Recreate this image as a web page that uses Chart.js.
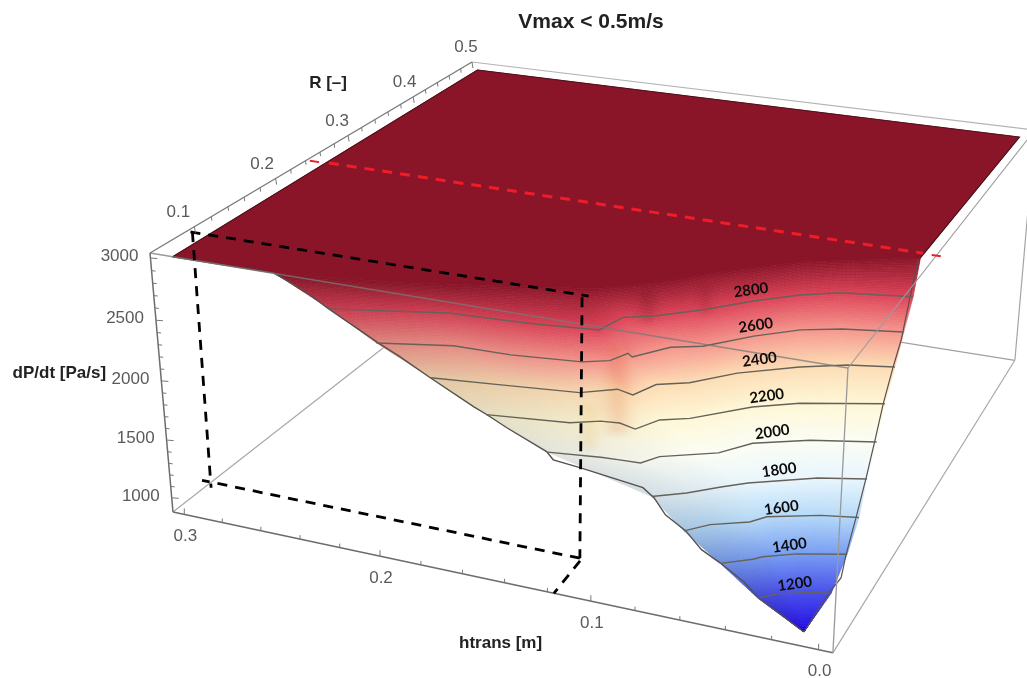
<!DOCTYPE html>
<html>
<head>
<meta charset="utf-8">
<title>Vmax &lt; 0.5m/s</title>
<script src="https://cdn.jsdelivr.net/npm/chart.js@4"></script>
<style>
    body { margin: 0; background: #fff; }
    canvas { display: block; }
</style>
</head>
<body>
<canvas id="surfaceChart" width="1027" height="678"></canvas>
<script>
// axis ticks
const htransTicks = [0.3, 0.2, 0.1, 0.0];
const rTicks = [0.1, 0.2, 0.3, 0.4, 0.5];
const dpTicks = [3000, 2500, 2000, 1500, 1000];

// axis box limits
const hFar = 0.306, hNear = -0.006;
const rFront = 0.05, rBack = 0.5;
const zTop = 3040, zBottom = 875;

// contour lines, each one htrans [m] and R [-]
const c3000h = [.248, .194, .154, .115, .094, .075, .047, .001];
const c3000r = [.058, .073, .092, .110, .134, .163, .198, .233];
const c2800h = [.221, .173, .138, .108, .104, .092, .075, .060, .044, .029, -.001];
const c2800r = [.056, .078, .082, .089, .112, .122, .143, .166, .186, .199, .210];
const c2600h = [.199, .168, .142, .112, .102, .098, .095, .084, .072, .056, .040, .024, -.001];
const c2600r = [.055, .069, .070, .077, .085, .099, .095, .117, .126, .152, .172, .183, .193];
const c2400h = [.174, .144, .111, .098, .090, .085, .073, .058, .036, .018, -.001];
const c2400r = [.055, .062, .070, .083, .079, .098, .108, .132, .155, .169, .177];
const c2200h = [.148, .113, .102, .094, .086, .080, .069, .049, .032, -.001];
const c2200r = [.053, .062, .071, .073, .069, .086, .095, .124, .140, .159];
const c2000h = [.120, .098, .090, .081, .076, .055, .045, .024, -.002];
const c2000r = [.052, .058, .059, .060, .072, .090, .110, .127, .140];
const c1800h = [.074, .062, .051, .042, .017, -.002];
const c1800r = [.053, .065, .080, .091, .113, .123];
const c1600h = [.059, .051, .037, .032, .012, -.003];
const c1600r = [.050, .063, .075, .085, .099, .105];
const c1400h = [.043, .032, .029, .017, -.002];
const c1400r = [.050, .062, .067, .078, .089];
const c1200h = [.026, .020, .008, .000];
const c1200r = [.048, .057, .066, .070];

// lowest point of the surface
const tipH = [.008], tipR = [.057], tipZ = 941;

// flat top of the surface, clipped at 3000
const topH = [.298, .300, .000, .001];
const topR = [.057, .492, .490, .233];

// front edge of the surface (R fixed) and right edge (htrans fixed)
const frontEdgeH = [.298, .248, .234, .222, .199, .189, .175, .155, .149, .140, .122, .119, .107, .079, .074, .069, .060, .053, .045, .034, .028, .008];
const frontEdgeZ = [3000, 3005, 2910, 2793, 2591, 2512, 2387, 2219, 2175, 2101, 1970, 1915, 1893, 1830, 1766, 1650, 1554, 1430, 1356, 1237, 1138, 941];
const sideEdgeH = [.008, .001, .001, .001, .001, .001, .001, .001, .001, .001, .001, .001];
const sideEdgeR = [.057, .071, .094, .102, .120, .137, .152, .166, .184, .199, .219, .228];
const sideEdgeZ = [941, 1196, 1166, 1303, 1506, 1721, 1941, 2158, 2362, 2504, 2863, 3007];

// contour levels and the colour of the surface at each level
const levels = [2800, 2600, 2400, 2200, 2000, 1800, 1600, 1400, 1200];
const levelColors = ['#dc4257', '#f5958c', '#fcdcb4', '#fef7d6', '#fbfdf4', '#e9f6fd', '#b6daf8', '#789ef2', '#4a52ea'];
const topColor = '#8b1528';
const tipColor = '#2a12e6';

// where each contour label sits on the surface
const labelH = [.065, .059, .054, .047, .041, .034, .029, .022, .016];
const labelR = [.182, .168, .156, .142, .129, .114, .099, .086, .072];

// dashed marker lines, black one and red one
const blackTopH = [.304, .113], blackTopR = [.091, .090];
const blackRiseH = [.115, .119], blackRiseR = [.087, .096];
const blackBaseH = [.119, .311], blackBaseR = [.096, .096];
const blackBackH = [.303, .303], blackBackR = [.091, .089];
const blackFootH = [.118, .117], blackFootR = [.093, .050];
const redTickLeftH = [.304, .299], redTickLeftR = [.241, .241];
const redLineH = [.294, .000], redLineR = [.242, .233];
const redTickRightH = [-.004, -.008], redTickRightR = [.232, .232];

// camera that maps the axis box to the flat chart scales
const cam = {
    g: -0.1178, e: 0.2789, f: 0.055,
    x0: 150, xu: 598.1, xv: 453.6, xw: 32.5,
    y0: 253, yu: 71.65, yv: -173.7, yw: 287.2
};

function project(h, R, z) {
    const u = (hFar - h) / (hFar - hNear);
    const v = (R - rFront) / (rBack - rFront);
    const w = (zTop - z) / (zTop - zBottom);
    const d = 1 + cam.g * u + cam.e * v + cam.f * w;
    return {
        x: (cam.x0 + cam.xu * u + cam.xv * v + cam.xw * w) / d,
        y: (cam.y0 + cam.yu * u + cam.yv * v + cam.yw * w) / d
    };
}

function path3d(hs, Rs, zs) {
    const n = Math.max(hs.length || 1, Rs.length || 1, zs.length || 1);
    const pts = [];
    for (let i = 0; i < n; i++) {
        pts.push(project(
            Array.isArray(hs) ? hs[i] : hs,
            Array.isArray(Rs) ? Rs[i] : Rs,
            Array.isArray(zs) ? zs[i] : zs
        ));
    }
    return pts;
}

function line(label, data, color, width, order, dash) {
    return {
        label: label, data: data, showLine: true, fill: false, tension: 0,
        borderColor: color, borderWidth: width, borderDash: dash || [],
        pointRadius: 0, order: order
    };
}

const contours = [
    [c2800h, c2800r], [c2600h, c2600r], [c2400h, c2400r], [c2200h, c2200r], [c2000h, c2000r],
    [c1800h, c1800r], [c1600h, c1600r], [c1400h, c1400r], [c1200h, c1200r]
];

const datasets = [
    // box lines the surface hides
    line('box back bottom', path3d([hFar, hNear], rBack, zBottom), '#a0a0a0', 1.2, 5),
    line('box left bottom', path3d(hFar, [rFront, rBack], zBottom), '#a8a8a8', 1.2, 5),
    // the surface is painted when this one comes up
    { label: 'surface', data: [], order: 4 }
];

contours.forEach((c, i) => {
    datasets.push(line(levels[i] + ' contour', path3d(c[0], c[1], levels[i]), '#66625a', 1.4, 3));
});

datasets.push(
    line('surface top edge', path3d(topH, topR, 3000), '#4a1018', 1.1, 3),
    line('surface front edge', path3d(frontEdgeH, tipR[0], frontEdgeZ), '#55504e', 1.4, 3),
    line('surface side edge', path3d(sideEdgeH, sideEdgeR, sideEdgeZ), '#5a5050', 1.2, 3),
    // box lines in front of the surface
    line('box top front', path3d([hFar, hNear], rFront, zTop), 'rgba(120,120,120,0.75)', 1.3, 2),
    line('box top back', path3d([hFar, hNear], rBack, zTop), '#b4b4b4', 1.2, 2),
    line('box top right', path3d(hNear, [rFront, rBack], zTop), '#9c9c9c', 1.2, 2),
    line('box top left', path3d(hFar, [rFront, rBack], zTop), '#7a7a7a', 1.4, 2),
    line('box edge near left', path3d(hFar, rFront, [zTop, zBottom]), '#6c6c6c', 1.5, 2),
    line('box edge near right', path3d(hNear, rFront, [zTop, zBottom]), '#9a9a9a', 1.3, 2),
    line('box edge far right', path3d(hNear, rBack, [zTop, zBottom]), '#a4a4a4', 1.2, 2),
    line('box bottom front', path3d([hFar, hNear], rFront, zBottom), '#6c6c6c', 1.5, 2),
    line('box bottom right', path3d(hNear, [rFront, rBack], zBottom), '#a8a8a8', 1.2, 2),
    // marker lines
    line('black top', path3d(blackTopH, blackTopR, zTop), '#000', 2.8, 1, [10, 8]),
    line('black rise', path3d(blackRiseH, blackRiseR, [zTop, zBottom]), '#000', 2.8, 1, [10, 8]),
    line('black base', path3d(blackBaseH, blackBaseR, zBottom), '#000', 2.8, 1, [10, 8]),
    line('black back', path3d(blackBackH, blackBackR, [zTop, zBottom]), '#000', 2.8, 1, [10, 8]),
    line('black foot', path3d(blackFootH, blackFootR, zBottom), '#000', 2.8, 1, [10, 8]),
    line('red tick left', path3d(redTickLeftH, redTickLeftR, zTop), '#ee1c25', 2, 1),
    line('red line', path3d(redLineH, redLineR, zTop), '#f01c28', 3, 1, [10, 8]),
    line('red tick right', path3d(redTickRightH, redTickRightR, zTop), '#ee1c25', 2, 1)
);

// split a rail into equal pieces so neighbouring rails can be joined cell by cell
function resample(pts, n) {
    if (pts.length === 1) {
        return Array.from({ length: n + 1 }, () => pts[0]);
    }
    const dist = [0];
    for (let i = 1; i < pts.length; i++) {
        dist.push(dist[i - 1] + Math.hypot(pts[i].x - pts[i - 1].x, pts[i].y - pts[i - 1].y));
    }
    const total = dist[dist.length - 1];
    const out = [];
    let j = 1;
    for (let k = 0; k <= n; k++) {
        const d = total * k / n;
        while (j < pts.length - 1 && dist[j] < d) j++;
        const t = (d - dist[j - 1]) / (dist[j] - dist[j - 1] || 1);
        out.push({ x: pts[j - 1].x + (pts[j].x - pts[j - 1].x) * t, y: pts[j - 1].y + (pts[j].y - pts[j - 1].y) * t });
    }
    return out;
}

function rgb(hex) {
    return [1, 3, 5].map(i => parseInt(hex.substr(i, 2), 16));
}

// light falls off towards the left edge of the sheet
function sideLight(t) {
    return t < 0.45 ? 0.9 + 0.1 * t / 0.45 : 1;
}

// creases in the sheet: soft darker or warmer stripes on the picture
const creases = [
    { x: 648, w: 9, y0: 285, y1: 328, tint: [0.9, 0.86, 0.86] },
    { x: 706, w: 7, y0: 280, y1: 320, tint: [0.94, 0.9, 0.9] },
    { x: 618, w: 13, y0: 340, y1: 440, tint: [0.98, 0.9, 0.86] },
    { x: 590, w: 10, y0: 400, y1: 455, tint: [1, 0.96, 0.9] }
];

function creaseTint(x, y, c) {
    return c.map((v, i) => {
        let out = v;
        creases.forEach(s => {
            if (y < s.y0 || y > s.y1) return;
            const dx = (x - s.x) / s.w;
            const edge = Math.min(1, (y - s.y0) / 10, (s.y1 - y) / 10);
            out *= 1 - (1 - s.tint[i]) * Math.exp(-dx * dx) * edge;
        });
        return out;
    });
}

const surfacePlugin = {
    id: 'surface',
    beforeDatasetDraw(chart, args) {
        if (chart.data.datasets[args.index].label !== 'surface') return;
        const ctx = chart.ctx;
        const sx = chart.scales.x, sy = chart.scales.y;
        const px = p => ({ x: sx.getPixelForValue(p.x), y: sy.getPixelForValue(p.y) });

        const cells = 140, rows = 22;
        const rails = [resample(path3d(c3000h, c3000r, 3000).map(px), cells)];
        const colors = [rgb(topColor)];
        contours.forEach((c, i) => {
            rails.push(resample(path3d(c[0], c[1], levels[i]).map(px), cells));
            colors.push(rgb(levelColors[i]));
        });
        rails.push(resample(path3d(tipH, tipR, tipZ).map(px), cells));
        colors.push(rgb(tipColor));

        const mix = (a, b, t) => ({ x: a.x + (b.x - a.x) * t, y: a.y + (b.y - a.y) * t });

        ctx.save();
        ctx.lineWidth = 0.7;
        for (let b = 0; b < rails.length - 1; b++) {
            for (let r = 0; r < rows; r++) {
                const t0 = r / rows, t1 = (r + 1) / rows, tm = (r + 0.5) / rows;
                const base = colors[b].map((c, i) => c + (colors[b + 1][i] - c) * tm);
                for (let k = 0; k < cells; k++) {
                    const p1 = mix(rails[b][k], rails[b + 1][k], t0);
                    const p2 = mix(rails[b][k + 1], rails[b + 1][k + 1], t0);
                    const p3 = mix(rails[b][k + 1], rails[b + 1][k + 1], t1);
                    const p4 = mix(rails[b][k], rails[b + 1][k], t1);
                    const light = sideLight((k + 0.5) / cells);
                    const cx = (p1.x + p3.x) / 2, cy = (p1.y + p3.y) / 2;
                    const shaded = creaseTint(cx, cy, base.map(c => c * light));
                    const fill = 'rgb(' + shaded.map(Math.round).join(',') + ')';
                    ctx.fillStyle = fill;
                    ctx.strokeStyle = fill;
                    ctx.beginPath();
                    ctx.moveTo(p1.x, p1.y);
                    ctx.lineTo(p2.x, p2.y);
                    ctx.lineTo(p3.x, p3.y);
                    ctx.lineTo(p4.x, p4.y);
                    ctx.closePath();
                    ctx.fill();
                    ctx.stroke();
                }
            }
        }

        // flat top
        const top = path3d(topH, topR, 3000).concat(path3d(c3000h, c3000r, 3000).reverse()).map(px);
        ctx.fillStyle = topColor;
        ctx.strokeStyle = topColor;
        ctx.beginPath();
        top.forEach((p, i) => i ? ctx.lineTo(p.x, p.y) : ctx.moveTo(p.x, p.y));
        ctx.closePath();
        ctx.fill();
        ctx.stroke();
        ctx.restore();
    },
    afterDatasetsDraw(chart) {
        const ctx = chart.ctx;
        const sx = chart.scales.x, sy = chart.scales.y;
        const at = (h, R, z) => {
            const p = project(h, R, z);
            return { x: sx.getPixelForValue(p.x), y: sy.getPixelForValue(p.y) };
        };
        const tick = (p, dx, dy) => {
            ctx.beginPath();
            ctx.moveTo(p.x, p.y);
            ctx.lineTo(p.x + dx, p.y + dy);
            ctx.stroke();
        };

        ctx.save();
        ctx.strokeStyle = '#777';
        ctx.lineWidth = 1;
        // minor ticks every 0.02 and every 100
        for (let i = 0; i <= 15; i++) {
            const major = i % 5 === 0;
            tick(at(i * 0.02, rFront, zBottom), 0, major ? -6 : -4);
        }
        for (let i = 0; i <= 20; i++) {
            const major = i % 5 === 0;
            tick(at(hFar, 0.1 + i * 0.02, zTop), major ? 1 : 0.5, major ? 6 : 4);
        }
        for (let i = 0; i <= 20; i++) {
            const major = i % 5 === 0;
            tick(at(hFar, rFront, 1000 + i * 100), major ? 7 : 4, 0.5);
        }

        ctx.fillStyle = '#5a5a5a';
        ctx.font = "17px 'Liberation Sans'";
        ctx.textBaseline = 'middle';
        ctx.textAlign = 'center';
        htransTicks.forEach(t => {
            const p = at(t, rFront, zBottom);
            ctx.fillText(t.toFixed(1), p.x + 1, p.y + 22);
        });
        rTicks.forEach(t => {
            const p = at(hFar, t, zTop);
            ctx.fillText(t.toFixed(1), p.x - 16 + (t - 0.1) * 25, p.y - 14.5);
        });
        ctx.textAlign = 'right';
        dpTicks.forEach(t => {
            const p = at(hFar, rFront, t);
            ctx.fillText(String(t), p.x - 12, p.y - 2);
        });

        ctx.fillStyle = '#222';
        ctx.textAlign = 'center';
        ctx.font = "bold 17px 'Liberation Sans'";
        const rMid = at(hFar, 0.26, zTop);
        ctx.fillText('R [\u2013]', rMid.x + 8, rMid.y - 69);
        const zMid = at(hFar, rFront, 2000);
        ctx.fillText('dP/dt [Pa/s]', zMid.x - 102, zMid.y - 8);
        const hMid = at(0.14, rFront, zBottom);
        ctx.fillText('htrans [m]', hMid.x - 4, hMid.y + 61);
        ctx.font = "bold 21px 'Liberation Sans'";
        ctx.fillText('Vmax < 0.5m/s', sx.getPixelForValue(591), sy.getPixelForValue(22));

        // contour labels
        ctx.fillStyle = '#0c0c0c';
        ctx.font = "bold 15px Lato";
        levels.forEach((lv, i) => {
            const p = at(labelH[i], labelR[i], lv);
            ctx.save();
            ctx.translate(p.x, p.y);
            ctx.rotate(-8 * Math.PI / 180);
            ctx.fillText(String(lv), 0, 0);
            ctx.restore();
        });
        ctx.restore();
    }
};

new Chart(document.getElementById('surfaceChart'), {
    type: 'scatter',
    data: { datasets: datasets },
    options: {
        responsive: false,
        animation: false,
        layout: { padding: 0 },
        plugins: { legend: { display: false }, tooltip: { enabled: false } },
        scales: {
            x: { type: 'linear', min: 0, max: 1027, display: false },
            y: { type: 'linear', min: 0, max: 678, reverse: true, display: false }
        }
    },
    plugins: [surfacePlugin]
});
</script>
</body>
</html>
